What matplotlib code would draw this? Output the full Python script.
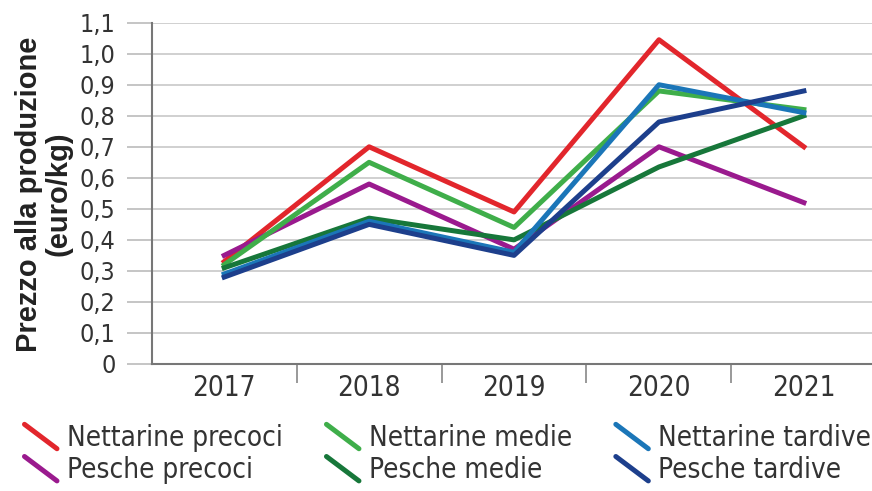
import matplotlib
matplotlib.use("Agg")
import matplotlib.pyplot as plt
from matplotlib.lines import Line2D
from matplotlib.legend_handler import HandlerBase

# data
anni = ["2017", "2018", "2019", "2020", "2021"]
nettarine_precoci = [0.33, 0.70, 0.49, 1.045, 0.70]
nettarine_medie = [0.32, 0.65, 0.44, 0.88, 0.82]
nettarine_tardive = [0.29, 0.46, 0.36, 0.90, 0.81]
pesche_precoci = [0.35, 0.58, 0.37, 0.70, 0.52]
pesche_medie = [0.31, 0.47, 0.40, 0.635, 0.80]
pesche_tardive = [0.28, 0.45, 0.35, 0.78, 0.88]

y_ticks = [0, 0.1, 0.2, 0.3, 0.4, 0.5, 0.6, 0.7, 0.8, 0.9, 1.0, 1.1]
y_labels = ["0", "0,1", "0,2", "0,3", "0,4", "0,5", "0,6", "0,7", "0,8", "0,9", "1,0", "1,1"]

# condensed face to mimic the narrow font of the original
narrow = {"family": "DejaVu Sans", "stretch": "condensed"}

serie = [
    ("Nettarine precoci", nettarine_precoci, "#e2262c"),
    ("Pesche precoci", pesche_precoci, "#9a1a8e"),
    ("Nettarine medie", nettarine_medie, "#3fae4a"),
    ("Pesche medie", pesche_medie, "#17773a"),
    ("Nettarine tardive", nettarine_tardive, "#1b76b8"),
    ("Pesche tardive", pesche_tardive, "#1d3f8c"),
]


class Diagonale(HandlerBase):
    # short slanted stroke as legend key
    def create_artists(self, legend, orig, xd, yd, w, h, fontsize, trans):
        l = Line2D([-xd + w * 0.05, -xd + w * 0.95], [-yd + h * 1.1, -yd - h * 0.1],
                   color=orig.get_color(), lw=orig.get_linewidth(),
                   solid_capstyle="round", transform=trans)
        return [l]


fig = plt.figure(figsize=(8.72, 4.91), dpi=100)
ax = fig.add_axes([0.174, 0.2587, 0.826, 0.6951])

x = list(range(len(anni)))
handles = []
for nome, valori, colore in serie:
    (ln,) = ax.plot(x, valori, color=colore, lw=3.6, label=nome, zorder=3)
    handles.append(ln)

ax.set_xlim(-0.5, 4.47)
ax.set_ylim(0, 1.1)
ax.set_yticks(y_ticks)
ax.set_yticklabels(y_labels, fontsize=18, color="#333333", **narrow)
ax.set_xticks(x)
ax.set_xticklabels(anni, fontsize=20, color="#333333", **narrow)
ax.set_xticks([0.5, 1.5, 2.5, 3.5], minor=True)
ax.tick_params(axis="x", which="major", length=0, pad=7)
ax.tick_params(axis="x", which="minor", length=14, width=1.2, color="#888888")
ax.tick_params(axis="y", length=18, width=1.2, color="#bbbbbb", pad=8)
ax.grid(axis="y", color="#d0d0d0", lw=1.4, zorder=0)
for s in ["top", "right"]:
    ax.spines[s].set_visible(False)
for s in ["left", "bottom"]:
    ax.spines[s].set_color("#777777")
    ax.spines[s].set_linewidth(1.5)

fig.text(0.05, 0.605, "Prezzo alla produzione\n(euro/kg)", rotation=90,
         ha="center", va="center", multialignment="center",
         fontfamily=["Liberation Sans", "DejaVu Sans"], fontweight="bold",
         fontsize=21, color="#222222", linespacing=1.05)

fig.legend(handles=handles, loc="upper left", bbox_to_anchor=(0.026, 0.136),
           ncol=3, frameon=False, handler_map={Line2D: Diagonale()},
           prop={"family": "DejaVu Sans", "stretch": "condensed", "size": 20},
           handlelength=1.3, handleheight=0.75, handletextpad=0.3,
           columnspacing=1.5, labelspacing=0.15, borderpad=0, borderaxespad=0,
           labelcolor="#333333")

fig.savefig("out.png", dpi=100)
